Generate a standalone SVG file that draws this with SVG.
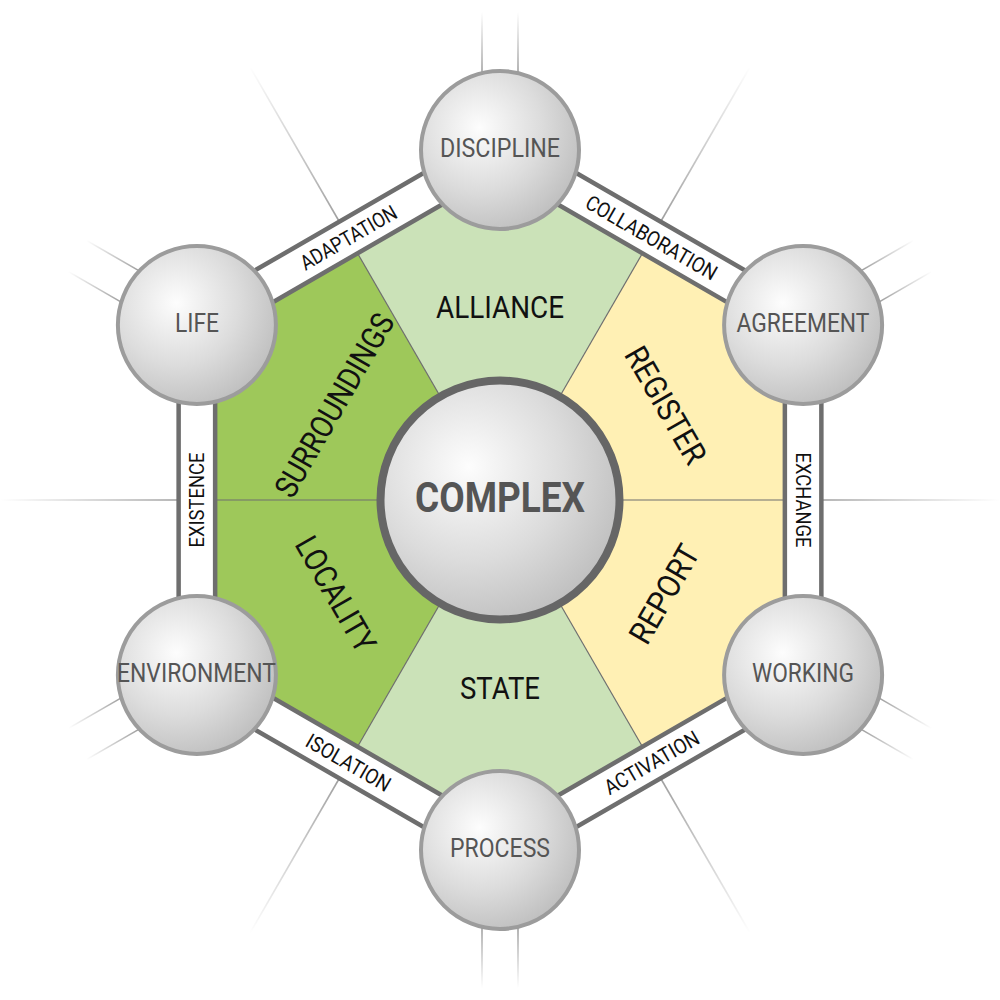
<svg xmlns="http://www.w3.org/2000/svg" width="1000" height="1000" viewBox="0 0 1000 1000">
  <style>
    text { font-family: Roboto, "Liberation Sans", sans-serif; }
    .node-label { font-size: 26px; fill: #555555; text-anchor: middle; }
    .sector-label { font-size: 32px; fill: #111111; text-anchor: middle; }
    .road-label { font-size: 21px; fill: #111111; text-anchor: middle; }
    .ball { fill: url(#ball); stroke: #9c9c9c; stroke-width: 4; }
    .divider { stroke: #6e6e6e; stroke-width: 1.2; }
    .ray { stroke: url(#rayG); stroke-width: 1.6; }
    .pair { stroke: url(#pairG); stroke-width: 1.6; }
  </style>
  <defs>
    <radialGradient id="ball" cx="0.37" cy="0.36" r="0.72" fx="0.37" fy="0.36">
      <stop offset="0" stop-color="#fdfdfd"/>
      <stop offset="0.55" stop-color="#dcdcdc"/>
      <stop offset="1" stop-color="#bcbcbc"/>
    </radialGradient>
    <linearGradient id="rayG" gradientUnits="userSpaceOnUse" x1="823" y1="500" x2="1000" y2="500">
      <stop offset="0" stop-color="#a0a0a0"/>
      <stop offset="1" stop-color="#a0a0a0" stop-opacity="0"/>
    </linearGradient>
    <linearGradient id="pairG" gradientUnits="userSpaceOnUse" x1="0" y1="72" x2="0" y2="12">
      <stop offset="0" stop-color="#a0a0a0"/>
      <stop offset="1" stop-color="#a0a0a0" stop-opacity="0"/>
    </linearGradient>
  </defs>

  <rect width="1000" height="1000" fill="#ffffff"/>

  <!-- background rays -->
  <g id="rays">
    <g><line class="ray" x1="823" y1="500" x2="1000" y2="500"/></g>
    <g transform="rotate(60 500 500)"><line class="ray" x1="823" y1="500" x2="1000" y2="500"/></g>
    <g transform="rotate(120 500 500)"><line class="ray" x1="823" y1="500" x2="1000" y2="500"/></g>
    <g transform="rotate(180 500 500)"><line class="ray" x1="823" y1="500" x2="1000" y2="500"/></g>
    <g transform="rotate(240 500 500)"><line class="ray" x1="823" y1="500" x2="1000" y2="500"/></g>
    <g transform="rotate(300 500 500)"><line class="ray" x1="823" y1="500" x2="1000" y2="500"/></g>
    <g><line class="pair" x1="482" y1="72" x2="482" y2="12"/><line class="pair" x1="518" y1="72" x2="518" y2="12"/></g>
    <g transform="rotate(60 500 500)"><line class="pair" x1="482" y1="72" x2="482" y2="12"/><line class="pair" x1="518" y1="72" x2="518" y2="12"/></g>
    <g transform="rotate(120 500 500)"><line class="pair" x1="482" y1="72" x2="482" y2="12"/><line class="pair" x1="518" y1="72" x2="518" y2="12"/></g>
    <g transform="rotate(180 500 500)"><line class="pair" x1="482" y1="72" x2="482" y2="12"/><line class="pair" x1="518" y1="72" x2="518" y2="12"/></g>
    <g transform="rotate(240 500 500)"><line class="pair" x1="482" y1="72" x2="482" y2="12"/><line class="pair" x1="518" y1="72" x2="518" y2="12"/></g>
    <g transform="rotate(300 500 500)"><line class="pair" x1="482" y1="72" x2="482" y2="12"/><line class="pair" x1="518" y1="72" x2="518" y2="12"/></g>
  </g>

  <!-- sectors -->
  <g id="sectors">
    <g id="alliance">
      <polygon points="500,500 348.44,237.5 500,150 651.56,237.5" fill="#cbe2b8"/>
      <text class="sector-label" x="500" y="318" textLength="128" lengthAdjust="spacingAndGlyphs">ALLIANCE</text>
    </g>
    <g id="register">
      <polygon points="500,500 651.56,237.5 803.11,325 803.11,500" fill="#fff0b4"/>
      <text class="sector-label" transform="translate(666,405) rotate(60)" x="0" y="11.4" textLength="130" lengthAdjust="spacingAndGlyphs">REGISTER</text>
    </g>
    <g id="report">
      <polygon points="500,500 803.11,500 803.11,675 651.56,762.5" fill="#fff0b4"/>
      <text class="sector-label" transform="translate(664,594) rotate(-60)" x="0" y="11.4" textLength="108" lengthAdjust="spacingAndGlyphs">REPORT</text>
    </g>
    <g id="state">
      <polygon points="500,500 651.56,762.5 500,850 348.44,762.5" fill="#cbe2b8"/>
      <text class="sector-label" x="500" y="699" textLength="80" lengthAdjust="spacingAndGlyphs">STATE</text>
    </g>
    <g id="locality">
      <polygon points="500,500 348.44,762.5 196.89,675 196.89,500" fill="#9ec85a"/>
      <text class="sector-label" transform="translate(336,594) rotate(60)" x="0" y="11.4" textLength="128" lengthAdjust="spacingAndGlyphs">LOCALITY</text>
    </g>
    <g id="surroundings">
      <polygon points="500,500 196.89,500 196.89,325 348.44,237.5" fill="#9ec85a"/>
      <text class="sector-label" transform="translate(334,405) rotate(-60)" x="0" y="11.4" textLength="206" lengthAdjust="spacingAndGlyphs">SURROUNDINGS</text>
    </g>
    <g id="dividers">
      <line class="divider" x1="500" y1="500" x2="348.44" y2="237.5"/>
      <line class="divider" x1="500" y1="500" x2="651.56" y2="237.5"/>
      <line class="divider" x1="500" y1="500" x2="803.11" y2="500"/>
      <line class="divider" x1="500" y1="500" x2="651.56" y2="762.5"/>
      <line class="divider" x1="500" y1="500" x2="348.44" y2="762.5"/>
      <line class="divider" x1="500" y1="500" x2="196.89" y2="500"/>
    </g>
  </g>

  <!-- connectors: the hexagonal road with its labels -->
  <g id="connectors">
    <polygon points="500,150 803.11,325 803.11,675 500,850 196.89,675 196.89,325" fill="none" stroke="#6e6e6e" stroke-width="41" stroke-linejoin="miter"/>
    <polygon points="500,150 803.11,325 803.11,675 500,850 196.89,675 196.89,325" fill="none" stroke="#ffffff" stroke-width="32" stroke-linejoin="miter"/>
    <text class="road-label" transform="translate(348.44,237.5) rotate(-30)" x="0" y="7.5" textLength="108" lengthAdjust="spacingAndGlyphs">ADAPTATION</text>
    <text class="road-label" transform="translate(651.56,237.5) rotate(30)" x="0" y="7.5" textLength="148" lengthAdjust="spacingAndGlyphs">COLLABORATION</text>
    <text class="road-label" transform="translate(803.11,500) rotate(90)" x="0" y="7.5" textLength="95" lengthAdjust="spacingAndGlyphs">EXCHANGE</text>
    <text class="road-label" transform="translate(651.56,762.5) rotate(-30)" x="0" y="7.5" textLength="106" lengthAdjust="spacingAndGlyphs">ACTIVATION</text>
    <text class="road-label" transform="translate(348.44,762.5) rotate(30)" x="0" y="7.5" textLength="94" lengthAdjust="spacingAndGlyphs">ISOLATION</text>
    <text class="road-label" transform="translate(196.89,500) rotate(-90)" x="0" y="7.5" textLength="95" lengthAdjust="spacingAndGlyphs">EXISTENCE</text>
  </g>

  <!-- nodes -->
  <g id="node-discipline">
    <circle class="ball" cx="500" cy="150" r="79"/>
    <text class="node-label" x="500" y="157" textLength="120" lengthAdjust="spacingAndGlyphs">DISCIPLINE</text>
  </g>
  <g id="node-agreement">
    <circle class="ball" cx="803.11" cy="325" r="79"/>
    <text class="node-label" x="803" y="332" textLength="133" lengthAdjust="spacingAndGlyphs">AGREEMENT</text>
  </g>
  <g id="node-working">
    <circle class="ball" cx="803.11" cy="675" r="79"/>
    <text class="node-label" x="803" y="682" textLength="102" lengthAdjust="spacingAndGlyphs">WORKING</text>
  </g>
  <g id="node-process">
    <circle class="ball" cx="500" cy="850" r="79"/>
    <text class="node-label" x="500" y="857" textLength="100" lengthAdjust="spacingAndGlyphs">PROCESS</text>
  </g>
  <g id="node-environment">
    <circle class="ball" cx="196.89" cy="675" r="79"/>
    <text class="node-label" x="196.5" y="682" textLength="159" lengthAdjust="spacingAndGlyphs">ENVIRONMENT</text>
  </g>
  <g id="node-life">
    <circle class="ball" cx="196.89" cy="325" r="79"/>
    <text class="node-label" x="197" y="332" textLength="44" lengthAdjust="spacingAndGlyphs">LIFE</text>
  </g>
  <g id="node-complex">
    <circle cx="500" cy="500" r="119.5" fill="url(#ball)" stroke="#666666" stroke-width="8"/>
    <text x="500" y="512" text-anchor="middle" font-size="42" font-weight="bold" fill="#555555" textLength="170" lengthAdjust="spacingAndGlyphs">COMPLEX</text>
  </g>
</svg>
